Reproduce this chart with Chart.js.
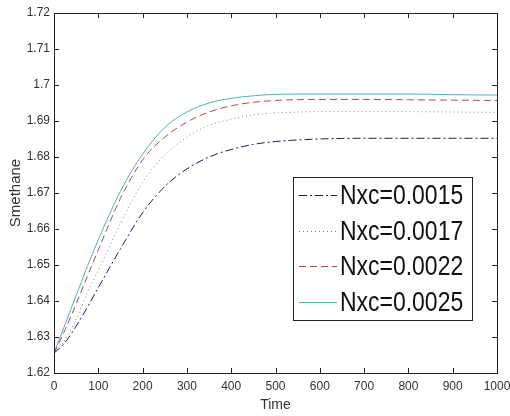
<!DOCTYPE html>
<html>
<head>
<meta charset="utf-8">
<script src="https://cdn.jsdelivr.net/npm/chart.js@4.4.0/dist/chart.umd.min.js"></script>
<style>
html,body{margin:0;padding:0;background:#fff;}
#wrap{width:510px;height:416px;}
</style>
</head>
<body>
<div id="wrap"><canvas id="c" width="510" height="416"></canvas></div>
<script>
const times = [0, 25, 50, 75, 100, 150, 200, 250, 300, 350, 400, 450, 500, 600, 700, 800, 900, 1000];
const labels = ["Nxc=0.0015", "Nxc=0.0017", "Nxc=0.0022", "Nxc=0.0025"];
const s0015 = [1.6255, 1.6285, 1.6330, 1.6382, 1.6437, 1.6545, 1.6645, 1.6718, 1.6767, 1.6800, 1.6821, 1.6835, 1.6843, 1.6850, 1.6852, 1.6852, 1.6852, 1.6852];
const s0017 = [1.6255, 1.6292, 1.6350, 1.6422, 1.6485, 1.6615, 1.6730, 1.6805, 1.6855, 1.6888, 1.6905, 1.6917, 1.6922, 1.6926, 1.6926, 1.6926, 1.6925, 1.6924];
const s0022 = [1.6255, 1.6320, 1.6392, 1.6468, 1.6542, 1.6685, 1.6792, 1.6855, 1.6897, 1.6925, 1.6942, 1.6952, 1.6957, 1.6960, 1.6960, 1.6959, 1.6958, 1.6957];
const s0025 = [1.6255, 1.6335, 1.6415, 1.6495, 1.6570, 1.6705, 1.6808, 1.6882, 1.6925, 1.6950, 1.6963, 1.6970, 1.6974, 1.6975, 1.6975, 1.6975, 1.6973, 1.6972];
const xTicks = [0, 100, 200, 300, 400, 500, 600, 700, 800, 900, 1000];
const yTicks = [1.62, 1.63, 1.64, 1.65, 1.66, 1.67, 1.68, 1.69, 1.70, 1.71, 1.72];

const seriesList = [s0015, s0017, s0022, s0025];
const colors = ["#1e1e55", "#8a8a6a", "#b84545", "#4fb2b8"];
const dashes = [[8, 3, 2, 3], [1, 3], [7, 4], []];
const FONT = '"Liberation Sans", Arial, sans-serif';

const datasets = seriesList.map((s, i) => ({
  label: labels[i],
  data: times.map((t, j) => ({x: t, y: s[j]})),
  borderColor: colors[i],
  borderWidth: 1,
  borderDash: dashes[i],
  pointRadius: 0,
  fill: false,
  cubicInterpolationMode: 'monotone'
}));

function fmt(v) {
  return String(parseFloat(v.toFixed(4)));
}

const framePlugin = {
  id: 'frame',
  afterDatasetsDraw(chart) {
    const {ctx, chartArea: a, scales} = chart;
    ctx.save();
    ctx.strokeStyle = '#222';
    ctx.lineWidth = 1;
    ctx.strokeRect(Math.round(a.left) + 0.5, Math.round(a.top) + 0.5, Math.round(a.right - a.left), Math.round(a.bottom - a.top));
    const L = 5;
    ctx.beginPath();
    xTicks.forEach(t => {
      const x = Math.round(scales.x.getPixelForValue(t)) + 0.5;
      ctx.moveTo(x, a.bottom); ctx.lineTo(x, a.bottom - L);
      ctx.moveTo(x, a.top); ctx.lineTo(x, a.top + L);
    });
    yTicks.forEach(t => {
      const y = Math.round(scales.y.getPixelForValue(t)) + 0.5;
      ctx.moveTo(a.left, y); ctx.lineTo(a.left + L, y);
      ctx.moveTo(a.right, y); ctx.lineTo(a.right - L, y);
    });
    ctx.stroke();

    // legend box inside plot
    const bx = 293, by = 177, bw = 179, bh = 143;
    ctx.fillStyle = '#fff';
    ctx.fillRect(bx, by, bw, bh);
    ctx.strokeStyle = '#222';
    ctx.strokeRect(bx + 0.5, by + 0.5, bw, bh);
    const rowY = [195, 231, 266, 302];
    chart.data.datasets.forEach((ds, i) => {
      const y = rowY[i] + 0.5;
      ctx.beginPath();
      ctx.strokeStyle = ds.borderColor;
      ctx.setLineDash(ds.borderDash);
      ctx.moveTo(299, y); ctx.lineTo(337, y);
      ctx.stroke();
      ctx.setLineDash([]);
      ctx.save();
      ctx.translate(340, rowY[i] + 1);
      ctx.scale(0.82, 1);
      ctx.font = '28px ' + FONT;
      ctx.textBaseline = 'middle';
      ctx.textAlign = 'left';
      ctx.fillStyle = '#111';
      ctx.fillText(ds.label, 0, 0);
      ctx.restore();
    });
    ctx.restore();
  }
};

new Chart(document.getElementById('c'), {
  type: 'line',
  data: {datasets},
  options: {
    responsive: false,
    animation: false,
    events: [],
    layout: {padding: {left: 0, right: 13, top: 13, bottom: 0}},
    plugins: {legend: {display: false}, tooltip: {enabled: false}},
    scales: {
      x: {
        type: 'linear',
        min: 0, max: 1000,
        afterBuildTicks(scale) { scale.ticks = xTicks.map(v => ({value: v})); },
        afterFit(scale) { scale.height = 43; scale.paddingRight = 0; scale.paddingLeft = 0; },
        grid: {display: false, drawTicks: false},
        border: {display: false},
        ticks: {
          color: '#333', padding: 6, maxRotation: 0, autoSkip: false,
          font: {family: FONT, size: 12},
          callback: v => fmt(v)
        },
        title: {display: true, text: 'Time', color: '#333', padding: {top: 1, bottom: 2},
          font: {family: FONT, size: 14}}
      },
      y: {
        type: 'linear',
        min: 1.62, max: 1.72,
        afterBuildTicks(scale) { scale.ticks = yTicks.map(v => ({value: v})); },
        afterFit(scale) { scale.width = 54; },
        grid: {display: false, drawTicks: false},
        border: {display: false},
        ticks: {
          color: '#333', padding: 4, autoSkip: false,
          font: {family: FONT, size: 12},
          callback: v => fmt(v)
        },
        title: {display: true, text: 'Smethane', color: '#333', padding: {top: 7, bottom: 4},
          font: {family: FONT, size: 15}}
      }
    }
  },
  plugins: [framePlugin]
});
</script>
</body>
</html>
